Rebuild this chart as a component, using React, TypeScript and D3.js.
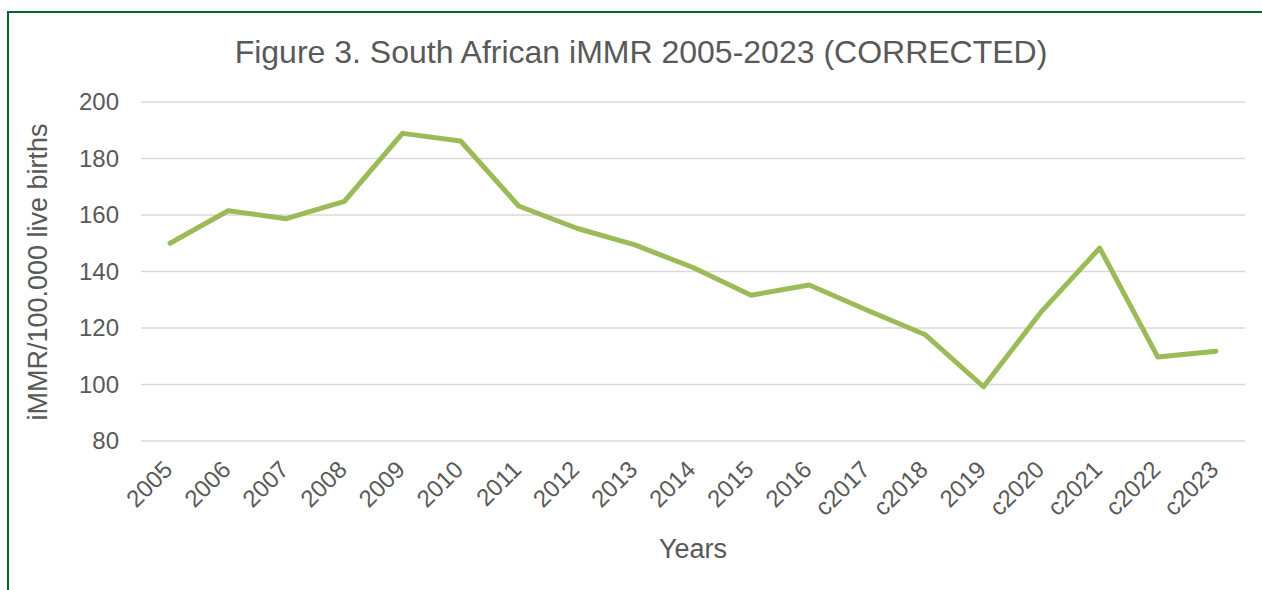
import React from "react";
import * as d3 from "d3";

const years = ["2005","2006","2007","2008","2009","2010","2011","2012","2013","2014","2015","2016","c2017","c2018","2019","c2020","c2021","c2022","c2023"];
const immr = [150.0,161.5,158.7,164.8,188.9,186.2,163.2,155.3,149.4,141.4,131.6,135.2,126.3,117.6,99.2,125.9,148.3,109.7,111.8];
const yTicks = [80,100,120,140,160,180,200];
const title = "Figure 3. South African iMMR 2005-2023 (CORRECTED)";
const yTitle = "iMMR/100.000 live births";
const xTitle = "Years";

const W = 1262, H = 590;
const FONT = "'Liberation Sans', Arial, sans-serif";
const TXT = "#595959";

export default function App() {
  const x = d3.scalePoint<string>().domain(years).range([141, 1245]).padding(0.5);
  const y = d3.scaleLinear().domain([80, 200]).range([441, 102]);
  const line = d3.line<number>().x((_, i) => x(years[i])!).y(d => y(d));

  return (
    <svg width={W} height={H} style={{ position: "absolute", left: 0, top: 0 }} fontFamily={FONT}>
      <rect x={0} y={0} width={W} height={H} fill="#fff" />
      <rect x={8} y={12} width={W + 10} height={H + 10} fill="none" stroke="#00662f" strokeWidth={2} />
      <text x={641} y={63} textAnchor="middle" fontSize={32} fill={TXT}>{title}</text>
      {yTicks.map(t => (
        <g key={t}>
          <line x1={141} x2={1245} y1={y(t)} y2={y(t)} stroke="#d9d9d9" strokeWidth={1.5} />
          <text x={119} y={y(t)} dy="0.35em" textAnchor="end" fontSize={24} fill={TXT}>{t}</text>
        </g>
      ))}
      {years.map(c => {
        const ax = x(c)! + 4, ay = 471;
        return (
          <text key={c} x={ax} y={ay} textAnchor="end" fontSize={24} fill={TXT}
            transform={`rotate(-45 ${ax} ${ay})`}>{c}</text>
        );
      })}
      <text transform={`translate(47 ${272}) rotate(-90)`} textAnchor="middle" fontSize={27} fill={TXT}>{yTitle}</text>
      <text x={693} y={558} textAnchor="middle" fontSize={27} fill={TXT}>{xTitle}</text>
      <path d={line(immr)!} fill="none" stroke="#9bbb59" strokeWidth={5} strokeLinecap="round" strokeLinejoin="round" />
    </svg>
  );
}
